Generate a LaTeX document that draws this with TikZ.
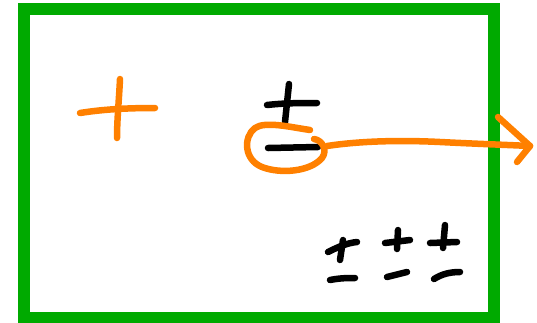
\documentclass[tikz,border=0pt]{standalone}
\begin{document}
\begin{tikzpicture}[x=1pt,y=-1pt,line cap=round,line join=round,
  pen/.style={line width=6.5pt},
  orangepen/.style={pen,draw={rgb,255:red,255;green,128;blue,0}},
  blackpen/.style={pen,draw=black},
  frame/.style={line width=12pt,draw={rgb,255:red,0;green,170;blue,0},line cap=butt,line join=miter}]
\useasboundingbox (0,0) rectangle (537,322);
% frame
\draw[frame] (24,9) rectangle (494,318);
% orange plus
\draw[orangepen] (80,113) .. controls (105,109) and (130,108) .. (155,108);
\draw[orangepen] (120,79) .. controls (119,100) and (117,120) .. (117,138);
% black plus-minus
\draw[blackpen] (289,84) -- (285,122);
\draw[blackpen] (267,105) .. controls (285,103) and (300,103) .. (317,103);
\draw[blackpen] (268,148) -- (318,147);
% orange loop and arrow
\draw[orangepen] (310,130) .. controls (290,127) and (265,121) .. (255,128)
  .. controls (243,137) and (244,160) .. (262,167)
  .. controls (280,174) and (310,172) .. (322,158)
  .. controls (328,150) and (322,140) .. (314,139);
\draw[orangepen] (327,146) .. controls (360,141) and (400,140) .. (440,142)
  .. controls (480,144) and (510,145) .. (530,146);
\draw[orangepen] (498,117) -- (530,146) -- (517,162);
% bottom right plus-minus signs
\draw[blackpen] (328,252) .. controls (338,247) and (347,243) .. (357,242);
\draw[blackpen] (343,240) -- (340,260);
\draw[blackpen] (330,280) .. controls (340,278) and (348,278) .. (355,278);
\draw[blackpen] (385,243) -- (410,240);
\draw[blackpen] (398,230) -- (397,249);
\draw[blackpen] (387,277) -- (407,272);
\draw[blackpen] (430,243) -- (457,242);
\draw[blackpen] (445,225) -- (443,248);
\draw[blackpen] (434,279) .. controls (442,274) and (450,272) .. (460,272);
\end{tikzpicture}
\end{document}
